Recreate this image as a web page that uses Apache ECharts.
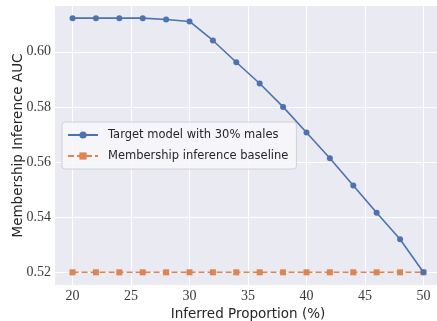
<!DOCTYPE html>
<html><head><meta charset="utf-8">
<script src="https://cdn.jsdelivr.net/npm/echarts@6/dist/echarts.min.js"></script>
<style>html,body{margin:0;padding:0;background:#fff}#c{width:437px;height:321px}</style>
</head><body><div id="c"></div>
<script>
const proportions = [20,22,24,26,28,30,32,34,36,38,40,42,44,46,48,50];
const targetAUC = [0.6122,0.6122,0.6122,0.6122,0.6117,0.6110,0.6041,0.5962,0.5885,0.5800,0.5707,0.5614,0.5515,0.5416,0.5320,0.5200];
const baselineAUC = [0.52,0.52,0.52,0.52,0.52,0.52,0.52,0.52,0.52,0.52,0.52,0.52,0.52,0.52,0.52,0.52];
const xTicks = [20,25,30,35,40,45,50];
const yTicks = [0.52,0.54,0.56,0.58,0.60];
const seriesNames = ['Target model with 30% males','Membership inference baseline'];

const serif = 'Liberation Serif';
const sans = 'DejaVu Sans';
const chart = echarts.init(document.getElementById('c'));
chart.setOption({
  animation:false,
  backgroundColor:'#ffffff',
  grid:{left:55,top:6,width:386,height:279,backgroundColor:'#eaeaf2',show:true,borderWidth:0,
    outerBoundsMode:'none',containLabel:false},
  xAxis:{type:'value',min:18.5,max:51.5,
    name:'Inferred Proportion (%)',nameLocation:'middle',nameGap:20,
    nameTextStyle:{fontFamily:sans,fontSize:13.5,color:'#262626'},
    axisLine:{show:false},
    axisTick:{show:false,customValues:xTicks},
    axisLabel:{customValues:xTicks,fontFamily:serif,fontSize:14,color:'#3a3a3a',margin:4},
    splitLine:{show:true,lineStyle:{color:'#ffffff',width:1}}},
  yAxis:{type:'value',min:0.5154,max:0.6166,
    name:'Membership Inference AUC',nameLocation:'middle',nameGap:30,nameMoveOverlap:false,
    nameTextStyle:{fontFamily:sans,fontSize:13.5,color:'#262626'},
    axisLine:{show:false},
    axisTick:{show:false,customValues:yTicks},
    axisLabel:{customValues:yTicks,fontFamily:serif,fontSize:14,color:'#3a3a3a',margin:4,
      formatter:v=>v.toFixed(2)},
    splitLine:{show:true,lineStyle:{color:'#ffffff',width:1}}},
  legend:{orient:'vertical',left:62,top:122,padding:[7,8,7,5],itemGap:9,itemWidth:30,itemHeight:9,
    backgroundColor:'rgba(248,248,251,0.85)',borderColor:'#cfcfd6',borderWidth:1,borderRadius:3,
    textStyle:{fontFamily:sans,fontSize:11.5,color:'#262626',padding:[0,0,0,5]},
    data:seriesNames},
  series:[
    {name:seriesNames[0],type:'line',data:proportions.map((x,i)=>[x,targetAUC[i]]),
      symbol:'circle',symbolSize:6,lineStyle:{color:'#4c72b0',width:1.6},itemStyle:{color:'#4c72b0'},z:3},
    {name:seriesNames[1],type:'line',data:proportions.map((x,i)=>[x,baselineAUC[i]]),
      symbol:'rect',symbolSize:6,lineStyle:{color:'#dd8452',width:1.6,type:[6,3]},itemStyle:{color:'#dd8452'},z:2}
  ]
});
</script></body></html>
